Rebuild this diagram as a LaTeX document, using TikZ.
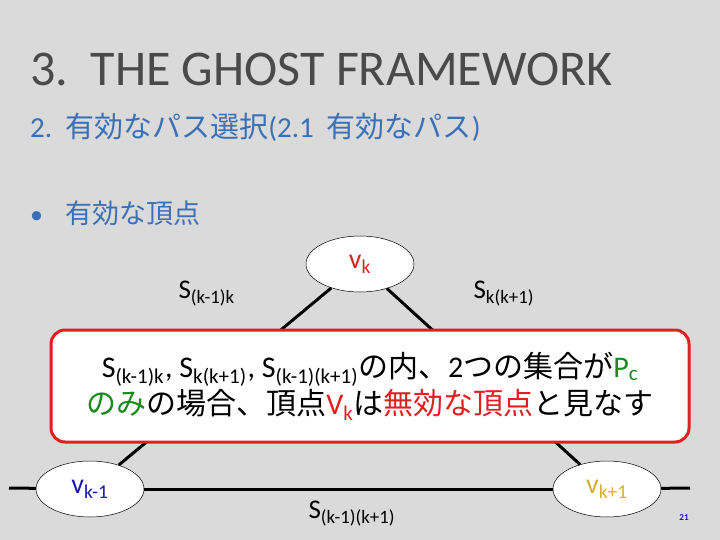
\documentclass[tikz,border=0pt]{standalone}
\usepackage{fontspec}
\setmainfont{Carlito}
\newfontfamily\cjk{Noto Sans CJK JP}
\usetikzlibrary{shapes.geometric}
\definecolor{bg}{HTML}{DADADA}
\definecolor{ttl}{HTML}{4A4A4A}
\definecolor{sub}{HTML}{3B6FB6}
\definecolor{vred}{HTML}{E02020}
\definecolor{vblue}{HTML}{1A1AB0}
\definecolor{vgold}{HTML}{D8B030}
\definecolor{grn}{HTML}{1A8A1A}
\begin{document}
\begin{tikzpicture}[x=1pt,y=-1pt,
  vert/.style={ellipse,draw=black,line width=0.5pt,fill=white,minimum width=108pt,minimum height=56pt,inner sep=0pt,font=\fontsize{28}{30}\selectfont},
  edge/.style={line width=3pt},
  lbl/.style={font=\fontsize{27}{28}\selectfont,anchor=base west}]
\fill[bg] (0,0) rectangle (720,540);
\useasboundingbox (0,0) rectangle (720,540);
\node[anchor=base west,text=ttl,font=\fontsize{50}{54}\selectfont,inner sep=0pt] (t) at (30,86) {3.\ \ THE GHOST FRAMEWORK};
\node[anchor=base west,text=sub,font=\fontsize{29}{32}\selectfont,inner sep=0pt] (s) at (30,138) {2.\ \ {\cjk 有効なパス選択}(2.1\ \ {\cjk 有効なパス})};
\node[anchor=base west,text=sub,font=\fontsize{26}{28}\selectfont,inner sep=0pt] (b) at (30,223) {•};
\node[anchor=base west,text=sub,font=\fontsize{27}{30}\selectfont,inner sep=0pt] (bt) at (65,223) {\cjk 有効な頂点};
\node[vert] (vk) at (360,264) {\textcolor{vred}{v\textsubscript{k}}};
\node[vert] (vl) at (90,489) {\textcolor{vblue}{v\textsubscript{k-1}}};
\node[vert] (vr) at (607,489) {\textcolor{vgold}{v\textsubscript{k+1}}};
\coordinate (le) at (9,488);
\coordinate (re) at (690,488);
\draw[edge] (le) -- (vl);
\draw[edge] (vl) -- (vr);
\draw[edge] (vr) -- (re);
\draw[edge] (vk) -- (vl);
\draw[edge] (vk) -- (vr);
\node[lbl] (l1) at (175,298) {S\textsubscript{(k-1)k}};
\node[lbl] (l2) at (470,298) {S\textsubscript{k(k+1)}};
\node[lbl] (l3) at (305,518) {S\textsubscript{(k-1)(k+1)}};
\node[draw=vred,line width=3pt,fill=white,rounded corners=14pt,minimum width=638pt,minimum height=112pt,inner sep=0pt,align=center,font=\fontsize{30}{37}\selectfont] (box) at (370,386)
 {S\textsubscript{(k-1)k}\kern1pt, S\textsubscript{k(k+1)}\kern1pt, S\textsubscript{(k-1)(k+1)}{\cjk の内、}2{\cjk つの集合が}\textcolor{grn}{P\textsubscript{c}}\\
 {\cjk\textcolor{grn}{のみ}の場合、頂点}\textcolor{vred}{V\textsubscript{k}}{\cjk は\textcolor{vred}{無効な頂点}と見なす}};
\node[text=vblue,font=\bfseries\fontsize{9}{10}\selectfont] (pg) at (684,518) {21};
\end{tikzpicture}
\end{document}
